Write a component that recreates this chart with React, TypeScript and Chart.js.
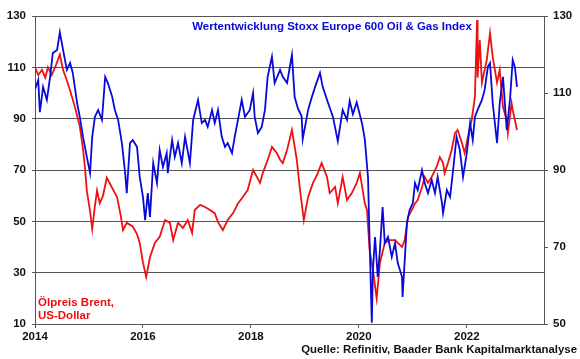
import React, { useEffect, useRef } from "react";
import { Chart, registerables } from "chart.js";

Chart.register(...registerables);

// Brent oil price (USD, left axis)
const brentYears = [2014.00, 2014.06, 2014.13, 2014.19, 2014.24, 2014.31, 2014.39, 2014.46, 2014.52, 2014.59, 2014.65, 2014.74, 2014.83, 2014.89, 2014.93, 2014.96, 2015.02, 2015.06, 2015.11, 2015.15, 2015.20, 2015.26, 2015.33, 2015.43, 2015.52, 2015.59, 2015.63, 2015.70, 2015.81, 2015.89, 2015.94, 2016.00, 2016.06, 2016.13, 2016.22, 2016.31, 2016.41, 2016.50, 2016.56, 2016.65, 2016.74, 2016.83, 2016.91, 2016.96, 2017.06, 2017.15, 2017.24, 2017.33, 2017.39, 2017.48, 2017.57, 2017.67, 2017.76, 2017.85, 2017.94, 2018.04, 2018.11, 2018.17, 2018.22, 2018.31, 2018.39, 2018.48, 2018.54, 2018.59, 2018.67, 2018.76, 2018.85, 2018.91, 2018.98, 2019.06, 2019.15, 2019.24, 2019.31, 2019.41, 2019.46, 2019.56, 2019.61, 2019.70, 2019.78, 2019.87, 2019.96, 2020.02, 2020.11, 2020.15, 2020.20, 2020.26, 2020.33, 2020.39, 2020.48, 2020.57, 2020.67, 2020.72, 2020.80, 2020.85, 2020.91, 2020.98, 2021.04, 2021.09, 2021.17, 2021.22, 2021.28, 2021.35, 2021.44, 2021.50, 2021.56, 2021.59, 2021.65, 2021.72, 2021.78, 2021.83, 2021.91, 2021.96, 2022.02, 2022.09, 2022.15, 2022.19, 2022.20, 2022.24, 2022.28, 2022.33, 2022.37, 2022.43, 2022.48, 2022.56, 2022.61, 2022.67, 2022.74, 2022.76, 2022.83, 2022.85, 2022.93];
const brentValues = [110, 107, 109, 106, 110, 107, 111, 115, 109, 105, 101, 94.5, 87, 78, 70, 62, 54, 47, 56, 62, 57, 60, 67, 63, 59.5, 52, 46.6, 49.4, 48, 45, 41.6, 34, 28.3, 36, 41.6, 44, 50.5, 49.4, 42.7, 49.4, 47.4, 50.5, 45.5, 54.4, 56.4, 55.6, 54.4, 53.2, 49.7, 46.6, 50.5, 53.2, 57, 59.5, 62.2, 70, 67.3, 65, 68.8, 73.9, 79, 76.6, 74, 72.7, 77.8, 85.6, 74, 62.2, 50.5, 59.5, 65, 68.8, 72.7, 67.3, 61, 63.4, 57, 67.3, 58.3, 61, 65, 68.8, 57, 54.4, 38.8, 31, 20, 33.8, 41.6, 42.7, 42.7, 41.6, 40, 42.7, 51.7, 54.4, 57, 58.3, 63.4, 67.3, 65, 67.3, 71.2, 75, 72.7, 68.8, 72.7, 77.8, 84.4, 85.6, 80.5, 76.6, 82.9, 89.5, 98.4, 128.4, 106, 120.6, 104, 109, 112.9, 123.4, 114, 104, 109, 94.5, 89.5, 84.4, 96, 93.4, 85.6];

// Stoxx Europe 600 Oil & Gas index (right axis)
const stoxxYears = [2014.00, 2014.06, 2014.09, 2014.15, 2014.22, 2014.28, 2014.33, 2014.41, 2014.46, 2014.52, 2014.59, 2014.65, 2014.70, 2014.78, 2014.83, 2014.89, 2014.96, 2015.02, 2015.06, 2015.11, 2015.17, 2015.24, 2015.30, 2015.35, 2015.43, 2015.48, 2015.54, 2015.61, 2015.67, 2015.70, 2015.76, 2015.81, 2015.89, 2015.94, 2016.00, 2016.04, 2016.09, 2016.13, 2016.19, 2016.26, 2016.31, 2016.37, 2016.44, 2016.46, 2016.54, 2016.59, 2016.65, 2016.72, 2016.78, 2016.87, 2016.93, 2017.02, 2017.09, 2017.15, 2017.20, 2017.28, 2017.33, 2017.39, 2017.46, 2017.52, 2017.57, 2017.65, 2017.70, 2017.76, 2017.83, 2017.89, 2017.98, 2018.04, 2018.07, 2018.13, 2018.20, 2018.26, 2018.31, 2018.39, 2018.44, 2018.54, 2018.59, 2018.67, 2018.76, 2018.81, 2018.87, 2018.94, 2018.96, 2019.06, 2019.13, 2019.19, 2019.28, 2019.33, 2019.43, 2019.52, 2019.61, 2019.70, 2019.78, 2019.83, 2019.89, 2019.96, 2020.06, 2020.11, 2020.17, 2020.20, 2020.24, 2020.26, 2020.30, 2020.35, 2020.39, 2020.44, 2020.48, 2020.54, 2020.61, 2020.67, 2020.72, 2020.80, 2020.81, 2020.85, 2020.89, 2020.94, 2021.00, 2021.04, 2021.09, 2021.17, 2021.22, 2021.28, 2021.35, 2021.41, 2021.46, 2021.54, 2021.56, 2021.63, 2021.69, 2021.74, 2021.81, 2021.87, 2021.93, 2022.00, 2022.06, 2022.11, 2022.15, 2022.20, 2022.28, 2022.33, 2022.39, 2022.43, 2022.48, 2022.56, 2022.61, 2022.67, 2022.74, 2022.80, 2022.85, 2022.89, 2022.93];
const stoxxValues = [111, 113.4, 105, 111.6, 108.2, 114.2, 120.4, 121.2, 125.8, 121.2, 116, 117.8, 115.2, 107.4, 103.8, 98.6, 93.4, 89.2, 98.6, 103.8, 105.6, 103, 114.2, 112.6, 109, 105.6, 103, 97, 89.2, 84, 97, 97.8, 96, 88.2, 83, 77, 84, 77.8, 91.8, 86.6, 95.2, 90.8, 94.4, 89.2, 97.8, 93.4, 97, 91.8, 98.6, 91.8, 103, 108.2, 102.2, 103, 101.2, 105.6, 102.2, 105.6, 98.6, 96, 97, 94.4, 98.6, 103, 108.2, 103.8, 105.6, 110, 103.8, 99.6, 101.2, 105.6, 114.2, 119.4, 112.6, 116, 114.2, 112.6, 119.9, 109, 106, 104, 98, 105.6, 109, 111.6, 115.2, 111.6, 107.4, 103.8, 97.5, 105.6, 103, 108, 104.5, 107.6, 102, 98, 88, 71, 50.3, 64, 72.6, 62.2, 69.2, 80.4, 71, 72.6, 67.4, 71, 65.9, 62.2, 57, 66.6, 76.2, 79.6, 81.4, 86.6, 84.8, 90, 86.6, 84, 87.4, 84, 88.2, 81.4, 78.8, 84.8, 83, 89.2, 98.6, 95.2, 88.2, 94.4, 102.2, 97.8, 103.8, 105.6, 108.2, 110.8, 116.8, 117.8, 107.4, 97, 107.4, 114.2, 100.4, 108.2, 118.6, 116.8, 111.6];

const xTickYears = [2014, 2016, 2018, 2020, 2022];
const leftTicks = [10, 30, 50, 70, 90, 110, 130];
const rightTicks = [50, 70, 90, 110, 130];

const titleText = "Wertentwicklung Stoxx Europe 600 Oil & Gas Index";
const brentLabelLines = ["Ölpreis Brent,", "US-Dollar"];
const sourceText = "Quelle: Refinitiv, Baader Bank Kapitalmarktanalyse";

const BLUE = "#0a0ad8";
const RED = "#ec1212";
const FONT = "'Liberation Sans', Arial, sans-serif";

const textPlugin = {
  id: "textPlugin",
  afterDraw(chart: any) {
    const ctx = chart.ctx;
    ctx.save();
    ctx.textBaseline = "middle";
    ctx.font = `bold 11.5px ${FONT}`;
    ctx.fillStyle = BLUE;
    ctx.textAlign = "center";
    ctx.fillText(titleText, 332, 27);
    ctx.fillStyle = RED;
    ctx.textAlign = "left";
    ctx.fillText(brentLabelLines[0], 38, 303);
    ctx.fillText(brentLabelLines[1], 38, 316);
    ctx.fillStyle = "#111";
    ctx.textAlign = "right";
    ctx.font = `bold 11.4px ${FONT}`;
    ctx.fillText(sourceText, 577, 350);
    ctx.restore();
  },
};

export default function App() {
  const ref = useRef<HTMLCanvasElement>(null);
  useEffect(() => {
    if (!ref.current) return;
    const tickFont = { family: FONT, size: 11.5, weight: "bold" as const };
    const chart = new Chart(ref.current, {
      type: "line",
      data: {
        datasets: [
          {
            label: "Stoxx Europe 600 Oil & Gas",
            data: stoxxYears.map((x, i) => ({ x, y: stoxxValues[i] })),
            borderColor: BLUE,
            borderWidth: 1.8,
            pointRadius: 0,
            tension: 0,
            yAxisID: "y1",
          },
          {
            label: "Ölpreis Brent",
            data: brentYears.map((x, i) => ({ x, y: brentValues[i] })),
            borderColor: RED,
            borderWidth: 1.8,
            pointRadius: 0,
            tension: 0,
            yAxisID: "y",
          },
        ],
      },
      options: {
        responsive: false,
        animation: false,
        layout: { padding: { top: 16, left: 0, right: 0, bottom: 0 } },
        plugins: { legend: { display: false }, tooltip: { enabled: false } },
        scales: {
          x: {
            type: "linear",
            min: 2014,
            max: 2023.43,
            grid: { drawOnChartArea: false, tickLength: 4, color: "#555" },
            border: { color: "#555" },
            ticks: { font: tickFont, color: "#111", padding: 2, callback: (v: any) => String(v) },
            afterBuildTicks: (s: any) => { s.ticks = xTickYears.map((v) => ({ value: v })); },
            afterFit: (s: any) => { s.height = 35; },
          },
          y: {
            position: "left",
            min: 10,
            max: 130,
            grid: { color: "#555", tickLength: 3 },
            border: { color: "#555" },
            ticks: { font: tickFont, color: "#111", padding: 6 },
            afterBuildTicks: (s: any) => { s.ticks = leftTicks.map((v) => ({ value: v })); },
            afterFit: (s: any) => { s.width = 35; },
          },
          y1: {
            position: "right",
            min: 50,
            max: 130,
            grid: { drawOnChartArea: false, tickLength: 4, color: "#555" },
            border: { color: "#555" },
            ticks: { font: tickFont, color: "#111", padding: 5 },
            afterBuildTicks: (s: any) => { s.ticks = rightTicks.map((v) => ({ value: v })); },
            afterFit: (s: any) => { s.width = 36; },
          },
        },
      },
      plugins: [textPlugin],
    });
    return () => chart.destroy();
  }, []);
  return (
    <div style={{ position: "absolute", left: 0, top: 0, width: 580, height: 359, background: "#fff" }}>
      <canvas ref={ref} width={580} height={359} style={{ display: "block" }} />
    </div>
  );
}
